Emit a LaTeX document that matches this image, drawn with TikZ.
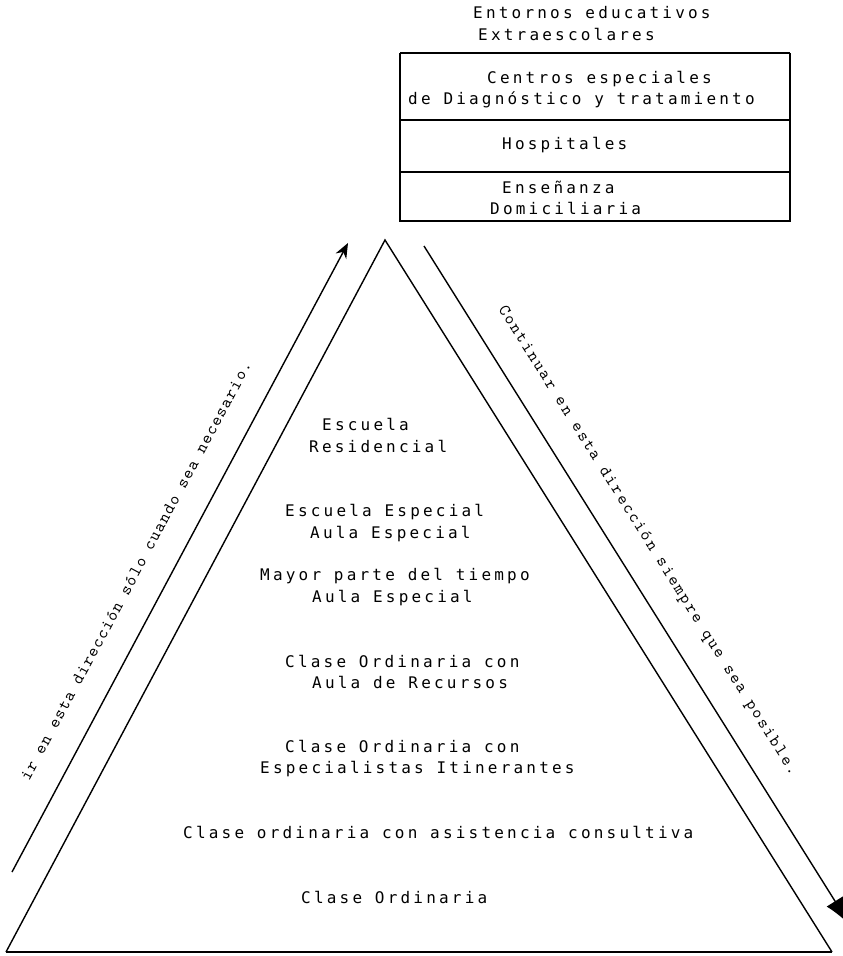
\documentclass[tikz,border=0pt]{standalone}
\usepackage{fontspec}
\usetikzlibrary{arrows.meta}
\newfontfamily\dotfont[LetterSpace=20]{DejaVu Sans Mono}
\newfontfamily\typefontL[LetterSpace=8]{lmmono10-regular.otf}
\newfontfamily\typefontR[LetterSpace=11.6]{lmmono10-regular.otf}
\tikzset{
  lbl/.style={anchor=base west, inner sep=0pt, font=\dotfont\fontsize{16}{19}\selectfont},
  sidelblL/.style={anchor=base west, inner sep=0pt, font=\typefontL\fontsize{17}{20}\selectfont},
  sidelblR/.style={anchor=base west, inner sep=0pt, font=\typefontR\fontsize{17}{20}\selectfont},
  edge/.style={line width=1.4pt, line join=miter},
  baseedge/.style={line width=2.2pt},
  boxline/.style={line width=1.5pt},
  boxtop/.style={line width=2.5pt}
}
\begin{document}
\begin{tikzpicture}[x=1pt,y=-1pt]
\useasboundingbox (0,0) rectangle (843,956);

% titles
\node[lbl] (t1) at (473,18) {Entornos educativos};
\node[lbl] (t2) at (478,40) {Extraescolares};

% box
\coordinate (bxtl) at (400,53);
\coordinate (bxtr) at (790,53);
\coordinate (bxbl) at (400,221);
\coordinate (bxbr) at (790,221);
\coordinate (d1l) at (400,120);
\coordinate (d1r) at (790,120);
\coordinate (d2l) at (400,172);
\coordinate (d2r) at (790,172);
\draw[boxline] (bxtl) -- (bxbl) -- (bxbr) -- (bxtr);
\draw[boxtop] (bxtl) -- (bxtr);
\draw[boxline] (d1l) -- (d1r);
\draw[boxline] (d2l) -- (d2r);
\node[lbl] (b1a) at (487,83) {Centros especiales};
\node[lbl] (b1b) at (408,104) {de Diagnóstico y tratamiento};
\node[lbl] (b2) at (502,149) {Hospitales};
\node[lbl] (b3a) at (502,193) {Enseñanza};
\node[lbl] (b3b) at (490,214) {Domiciliaria};

% triangle
\coordinate (apex) at (385,240);
\coordinate (bl) at (6,952);
\coordinate (br) at (832,952);
\draw[edge] (bl) -- (apex) -- (br);
\draw[baseedge] (bl) -- (br);

% arrows
\coordinate (la0) at (12,872);
\coordinate (la1) at (348,243);
\draw[edge, -{Stealth[length=15pt,width=12pt]}] (la0) -- (la1);
\coordinate (ra0) at (424,246);
\coordinate (ra1) at (850,925);
\draw[edge, -{Latex[length=28pt,width=20pt]}] (ra0) -- (ra1);

\node[sidelblL, rotate=61.9] (lt) at (29,782) {ir en esta dirección sólo cuando sea necesario.};
\node[sidelblR, rotate=-57.9] (rt) at (498,309) {Continuar en esta dirección siempre que sea posible.};

% levels
\node[lbl] (l1a) at (322,430) {Escuela};
\node[lbl] (l1b) at (309,452) {Residencial};
\node[lbl] (l2a) at (285,516) {Escuela Especial};
\node[lbl] (l2b) at (310,538) {Aula Especial};
\node[lbl] (l3a) at (260,580) {Mayor parte del tiempo};
\node[lbl] (l3b) at (312,602) {Aula Especial};
\node[lbl] (l4a) at (285,667) {Clase Ordinaria con};
\node[lbl] (l4b) at (312,688) {Aula de Recursos};
\node[lbl] (l5a) at (285,752) {Clase Ordinaria con};
\node[lbl] (l5b) at (260,773) {Especialistas Itinerantes};
\node[lbl] (l6) at (183,838) {Clase ordinaria con asistencia consultiva};
\node[lbl] (l7) at (301,903) {Clase Ordinaria};
\end{tikzpicture}
\end{document}
